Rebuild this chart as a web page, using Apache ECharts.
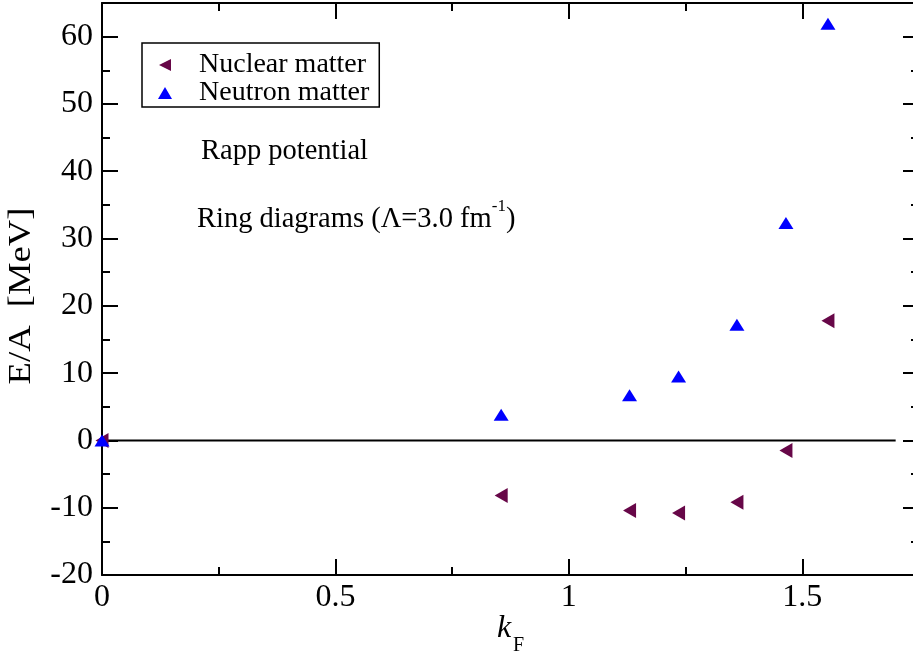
<!DOCTYPE html>
<html>
<head>
<meta charset="utf-8">
<script src="https://cdn.jsdelivr.net/npm/echarts@6/dist/echarts.min.js"></script>
<style>html,body{margin:0;padding:0;background:#fff;overflow:hidden;}#c{width:921px;height:658px;}</style>
</head>
<body>
<div id="c"></div>
<script>
const kF = [0, 0.855, 1.13, 1.235, 1.36, 1.465, 1.555];
const nuclearMatter = [0, -8.2, -10.4, -10.8, -9.2, -1.5, 17.8];
const neutronMatter = [0, 3.8, 6.7, 9.5, 17.2, 32.3, 61.9];
const zeroLineX = [0, 1.7];
const xTicks = [0, 0.5, 1, 1.5];
const yTicks = [-20, -10, 0, 10, 20, 30, 40, 50, 60];

const FONT = "'Liberation Serif','Times New Roman',serif";
const NUC_COLOR = '#670748';
const NEU_COLOR = '#0000ff';
const LEFT_TRI = 'path://M0,5 L10,0 L10,10 Z';

const chart = echarts.init(document.getElementById('c'), null, {renderer: 'canvas', width: 921, height: 658});

function axisCommon(showLabel) {
  return {
    axisLine: {show: true, onZero: false, lineStyle: {color: '#000', width: 2}},
    axisTick: {show: true, inside: true, length: 16, lineStyle: {color: '#000', width: 2}},
    minorTick: {show: true, splitNumber: 2, length: 8, lineStyle: {color: '#000', width: 2}},
    splitLine: {show: false},
    minorSplitLine: {show: false},
    axisLabel: {show: showLabel, color: '#000', fontFamily: FONT, fontSize: 32, showMaxLabel: false}
  };
}

const option = {
  animation: false,
  backgroundColor: '#fff',
  grid: {left: 102, top: 3, right: 2, bottom: 83, containLabel: false},
  xAxis: [
    Object.assign({type: 'value', position: 'bottom', min: 0, max: 1.75, interval: 0.5}, axisCommon(true), {
      axisLabel: {show: true, color: '#000', fontFamily: FONT, fontSize: 32, margin: 7, showMaxLabel: false,
        formatter: v => xTicks.includes(v) ? String(v) : ''}
    }),
    Object.assign({type: 'value', position: 'top', min: 0, max: 1.75, interval: 0.5}, axisCommon(false))
  ],
  yAxis: [
    Object.assign({type: 'value', position: 'left', min: -20, max: 65, interval: 10}, axisCommon(true), {
      axisLabel: {show: true, color: '#000', fontFamily: FONT, fontSize: 32, margin: 9, showMaxLabel: false,
        formatter: v => yTicks.includes(v) ? String(v) : ''}
    }),
    Object.assign({type: 'value', position: 'right', min: -20, max: 65, interval: 10}, axisCommon(false),
      {axisLine: {show: false, onZero: false}})
  ],
  legend: {
    show: true,
    orient: 'vertical',
    left: 142, top: 43,
    borderColor: '#000', borderWidth: 1.5,
    padding: [8, 10, 0, 16],
    itemGap: 0,
    itemWidth: 14, itemHeight: 12,
    selectedMode: false,
    textStyle: {fontFamily: FONT, fontSize: 28, color: '#000', lineHeight: 28, padding: [0, 0, 0, 22]},
    data: [
      {name: 'Nuclear matter', icon: LEFT_TRI},
      {name: 'Neutron matter', icon: 'triangle'}
    ]
  },
  graphic: [
    {type: 'text', left: 201, top: 137, style: {text: 'Rapp potential', font: '28.5px ' + FONT, fill: '#000'}},
    {type: 'text', left: 197, top: 198, style: {
      text: '{a|Ring diagrams (Λ=3.0 fm}{s|-1}{a|)}',
      rich: {
        a: {fontFamily: FONT, fontSize: 28.5, lineHeight: 36, verticalAlign: 'bottom', fill: '#000'},
        s: {fontFamily: FONT, fontSize: 17, lineHeight: 17, verticalAlign: 'top', fill: '#000'}
      }
    }},
    {type: 'text', x: 22, y: 296, rotation: Math.PI / 2, scaleX: 1.18, scaleY: 1,
      style: {text: 'E/A  [MeV]', font: '31px ' + FONT, fill: '#000', align: 'center', verticalAlign: 'middle'}},
    {type: 'text', x: 497, y: 629, style: {text: 'k', font: 'italic 32px ' + FONT, fill: '#000', align: 'left', verticalAlign: 'middle'}},
    {type: 'text', x: 513, y: 646, style: {text: 'F', font: '20px ' + FONT, fill: '#000', align: 'left', verticalAlign: 'middle'}}
  ],
  series: [
    {
      name: 'zero', type: 'line', silent: true, symbol: 'none',
      lineStyle: {color: '#000', width: 2},
      data: zeroLineX.map(x => [x, 0]), z: 1
    },
    {
      name: 'Nuclear matter', type: 'scatter', symbol: LEFT_TRI, symbolSize: [13, 15],
      itemStyle: {color: NUC_COLOR, opacity: 1},
      data: kF.map((x, i) => [x, nuclearMatter[i]]), z: 3
    },
    {
      name: 'Neutron matter', type: 'scatter', symbol: 'triangle', symbolSize: [15, 12],
      itemStyle: {color: NEU_COLOR, opacity: 1},
      data: kF.map((x, i) => [x, neutronMatter[i]]), z: 4
    }
  ]
};
chart.setOption(option);
</script>
</body>
</html>
